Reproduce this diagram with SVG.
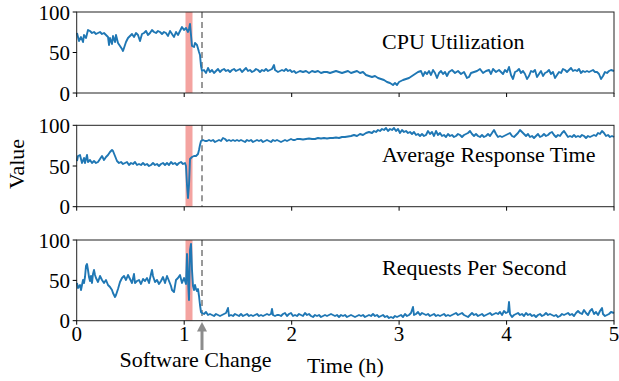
<svg xmlns="http://www.w3.org/2000/svg" width="619" height="381" viewBox="0 0 619 381" font-family="'Liberation Serif', 'Times New Roman', 'DejaVu Serif', serif">
<defs>
<style>
text{font-family:"Liberation Serif","Times New Roman","DejaVu Serif",serif;fill:#000}
.tick{font-size:21px}
.ylab{text-anchor:end}
.xlab{text-anchor:middle}
.lbl{font-size:22px}
.band{fill:#f4a3a0}
.dash{stroke:#808080;stroke-width:1.6;stroke-dasharray:6,4;fill:none}
.frame{fill:none;stroke:#222;stroke-width:1}
.tk{stroke:#000;stroke-width:1}
.data{fill:none;stroke:#1f77b4;stroke-width:1.9;stroke-linejoin:round}
</style>
</defs>
<rect width="619" height="381" fill="#fff"/>

<g id="panel-cpu">
<rect class="band" x="185.5" y="12" width="7" height="81"/>
<line class="dash" x1="202" y1="12" x2="202" y2="93"/>
<polyline class="data" points="77,33 79,41 81,37 83,42 84,35 86,38 88,30 90,31 92,33 94,32 96,34 98,33 100,32 102,34 104,33 106,35 108,37 109,45 110,38 112,44 113,36 115,42 116,35 118,43 120,46 122,49 123,51 124,48 126,42 128,38 130,36 132,34 134,37 136,33 138,35 140,41 142,34 144,33 146,31 148,35 150,33 152,30 154,32 156,33 158,31 160,32 162,34 164,32 166,33 168,36 170,31 172,34 174,37 176,32 178,35 180,31 182,27 184,30 186,28 188,32 189,29 190,24 191,35 192,46 194,47 195,43 197,45 199,52 200,55 201,66 202,71 204,70 206,73 208,68 210,72 212,70 214,73 216,71 218,69 220,72 222,70 224,69 226,71 228,70 230,72 232,70 234,69 236,71 238,70 240,69 242,72 244,70 246,68 248,71 250,70 252,72 254,71 256,69 258,70 260,72 262,70 264,71 266,69 268,71 270,70 272,69 274,65 275,70 278,72 280,71 282,70 284,71 286,69 288,71 290,70 292,72 294,71 296,73 298,72 300,71 303,72 306,71 309,73 312,71 315,72 318,71 321,73 324,72 327,72 330,73 333,72 336,71 339,72 342,73 345,72 348,71 351,73 354,72 357,71 360,73 363,72 366,75 369,76 372,77 375,76 378,78 381,79 384,80 387,82 390,83 393,85 395,83 397,85 399,82 401,81 403,80 406,79 409,78 412,76 415,74 418,72 421,71 423,76 425,72 427,74 429,71 431,75 433,70 435,73 437,78 439,73 441,71 443,74 445,72 447,76 449,72 452,70 455,73 458,71 461,74 464,72 467,78 469,77 471,73 474,72 477,71 480,69 483,73 486,71 489,70 491,74 493,69 496,72 499,70 501,72 503,74 505,70 507,72 509,67 511,75 513,79 515,72 517,71 519,69 521,73 523,71 525,74 527,79 529,76 531,71 533,72 535,70 537,77 539,74 541,71 543,76 545,73 547,72 549,70 551,74 553,72 555,78 557,75 559,72 561,73 563,69 565,70 567,72 569,70 571,68 573,71 575,70 577,71 579,69 581,73 583,71 585,72 587,71 589,72 591,71 593,70 595,72 597,72 599,74 601,79 603,76 605,72 607,73 609,71 611,70 614,71"/>
<rect class="frame" x="76.7" y="12" width="537.3" height="81"/>
<path class="tk" d="M72.7,12H76.7M72.7,52.5H76.7M72.7,93H76.7M76.7,93V97M184.2,93V97M291.7,93V97M399.1,93V97M506.6,93V97M614,93V97"/>
<text class="tick ylab" x="70" y="19.5">100</text>
<text class="tick ylab" x="70" y="60">50</text>
<text class="tick ylab" x="70" y="100.5">0</text>
<text class="lbl" x="382" y="48.5">CPU Utilization</text>
</g>

<g id="panel-art">
<rect class="band" x="185.5" y="125.3" width="7" height="81.4"/>
<line class="dash" x1="202" y1="125.3" x2="202" y2="206.7"/>
<polyline class="data" points="77,161 78,156 80,155 82,163 84,158 85,163 87,155 88,162 90,160 92,163 94,161 96,163 98,162 100,159 102,156 104,160 106,157 108,155 110,152 112,150 113,151 115,156 117,161 119,163 121,162 123,164 125,163 127,162 129,165 131,163 133,164 135,162 137,165 139,164 141,165 143,163 145,165 147,164 149,166 151,165 153,163 155,165 157,164 159,166 161,164 163,163 165,165 167,163 169,165 171,162 173,164 175,163 177,165 179,163 181,162 183,164 185,163 186,166 187,185 188,198 189,185 190,159 192,157 194,156 196,156 198,154 199,150 200,145 201,141 203,140 205,141 207,141 209,140 211,141 213,140 215,142 217,141 219,140 221,141 223,138 225,139 227,141 229,140 231,141 233,140 235,141 237,140 239,141 241,140 243,141 245,142 247,140 249,141 251,140 253,142 255,141 257,140 259,141 261,140 263,142 265,141 267,140 269,141 271,142 273,140 275,141 277,140 279,141 281,142 283,141 285,140 287,141 289,140 291,139 293,140 295,140 297,139 300,139 303,139.5 306,139 309,138.5 312,139 315,139 318,138 321,138.5 324,138 327,138.5 330,138 333,138 336,137.5 339,138 342,137 345,137 348,136.5 351,136 354,135 357,136 360,134 363,135 366,133 369,132 372,133 374,131 376,132 378,130 380,131 382,129 384,130 386,128 388,131 390,129 392,130 394,128 396,131 398,129 400,133 402,130 404,132 406,131 408,133 410,132 412,134 414,132 416,135 418,134 420,136 422,134 424,136 426,135 428,131 430,134 432,132 434,136 436,131 438,135 440,133 442,136 444,135 446,137 448,134 450,136 452,135 454,137 456,136 458,134 460,135 462,137 464,135 466,134 468,133 470,131 472,134 474,136 476,134 478,136 480,137 482,135 484,137 486,136 488,134 490,136 492,133 494,130 496,134 498,137 500,136 502,137 504,136 506,135 508,134 510,133 512,136 514,137 516,135 518,133 520,130 522,132 524,134 526,136 528,134 530,137 532,136 534,138 536,136 538,134 540,137 542,136 544,134 546,136 548,135 550,133 552,132 554,135 556,137 558,135 560,136 562,133 564,131 566,134 568,137 570,136 572,137 574,135 576,137 578,136 580,137 582,135 584,136 586,138 588,136 590,137 592,136 594,135 596,136 598,133 600,134 602,131 604,133 606,136 608,135 610,137 612,136 614,137"/>
<rect class="frame" x="76.7" y="125.3" width="537.3" height="81.4"/>
<path class="tk" d="M72.7,125.3H76.7M72.7,166H76.7M72.7,206.7H76.7M76.7,206.7V210.7M184.2,206.7V210.7M291.7,206.7V210.7M399.1,206.7V210.7M506.6,206.7V210.7M614,206.7V210.7"/>
<text class="tick ylab" x="70" y="132.8">100</text>
<text class="tick ylab" x="70" y="173.5">50</text>
<text class="tick ylab" x="70" y="214.2">0</text>
<text class="lbl" x="382" y="162">Average Response Time</text>
</g>

<g id="panel-rps">
<rect class="band" x="185.5" y="240" width="7" height="80.7"/>
<line class="dash" x1="202" y1="240" x2="202" y2="320.7"/>
<polyline class="data" points="77,283 78,288 80,285 81,290 83,280 84,283 85,277 86,266 87,264 88,270 89,277 90,281 91,276 92,283 93,274 94,270 95,275 96,278 98,282 100,276 102,280 104,283 106,280 108,285 110,287 112,290 113,293 115,297 116,295 118,289 120,282 122,278 124,276 126,280 128,275 130,279 132,283 134,274 135,283 137,281 139,280 141,284 143,279 145,281 147,278 149,283 151,274 152,270 153,276 155,282 157,280 159,284 161,281 163,277 165,283 167,276 169,281 171,286 172,290 174,292 176,280 178,278 180,275 182,283 184,278 186,284 187,254 188,280 189,300 190,250 191,244 192,270 193,286 194,290 195,285 196,289 197,291 198,289 199,296 200,305 201,312 202,313 204,314 206,312 208,315 210,314 212,315 214,316 216,314 218,315 220,316 222,315 224,314 226,313 228,308 229,316 231,315 233,316 235,314 237,315 239,316 241,314 243,316 245,315 247,314 249,316 251,315 253,316 255,315 257,314 259,316 261,315 263,316 265,315 267,314 269,315 271,314 272,309 273,315 275,316 277,315 279,315 281,316 283,314 285,313 287,316 289,314 291,313 293,316 295,315 297,316 299,314 301,315 303,316 305,313 307,315 309,314 311,316 313,317 315,315 317,316 319,315 321,317 323,316 325,315 327,316 329,315 331,314 333,315 335,316 337,315 339,317 341,315 343,316 345,315 347,317 349,316 351,315 353,316 355,317 357,316 359,315 361,316 363,315 365,317 367,316 369,315 371,316 373,314 375,316 377,315 379,317 381,316 383,315 385,317 387,316 389,318 391,317 393,318 395,316 397,317 399,316 401,315 403,317 405,314 407,316 409,315 411,313 413,307 414,315 416,314 418,312 420,315 422,313 424,314 426,315 428,314 430,316 432,315 434,314 436,316 438,315 440,316 442,315 444,314 446,316 448,315 450,316 452,315 454,314 456,313 458,315 460,314 462,313 464,315 466,316 468,317 470,315 472,313 474,315 476,314 478,316 480,315 482,314 484,316 486,315 488,314 490,313 492,315 494,314 496,313 498,314 500,312 502,315 504,311 506,313 508,312 509,302 510,314 512,317 514,315 516,314 518,313 520,315 522,314 524,316 526,313 528,315 530,314 532,316 534,315 536,317 538,315 540,314 542,316 544,315 546,313 548,315 550,314 552,315 554,316 556,315 558,317 560,316 562,314 564,315 566,314 568,313 570,315 572,314 574,316 576,313 578,311 580,313 582,314 584,310 586,313 588,315 590,311 592,309 594,314 596,312 598,315 600,311 602,308 603,314 605,316 607,315 609,314 611,312 614,313"/>
<rect class="frame" x="76.7" y="240" width="537.3" height="80.7"/>
<path class="tk" d="M72.7,240H76.7M72.7,280.4H76.7M72.7,320.7H76.7M76.7,320.7V324.7M184.2,320.7V324.7M291.7,320.7V324.7M399.1,320.7V324.7M506.6,320.7V324.7M614,320.7V324.7"/>
<text class="tick ylab" x="70" y="247.5">100</text>
<text class="tick ylab" x="70" y="287.9">50</text>
<text class="tick ylab" x="70" y="328.2">0</text>
<text class="lbl" x="382" y="275">Requests Per Second</text>
<text class="tick xlab" x="76.7" y="341">0</text>
<text class="tick xlab" x="184.2" y="341">1</text>
<text class="tick xlab" x="291.7" y="341">2</text>
<text class="tick xlab" x="399.1" y="341">3</text>
<text class="tick xlab" x="506.6" y="341">4</text>
<text class="tick xlab" x="614" y="341">5</text>
</g>

<g id="annotation">
<line x1="202" y1="350" x2="202" y2="330" stroke="#8c8c8c" stroke-width="3"/>
<polygon points="202,322 197,331.5 207,331.5" fill="#8c8c8c"/>
<text class="lbl" x="195.5" y="367" text-anchor="middle">Software Change</text>
</g>

<text class="lbl" x="307" y="373">Time (h)</text>
<text class="lbl" x="0" y="0" text-anchor="middle" transform="translate(24,164) rotate(-90)">Value</text>
</svg>
